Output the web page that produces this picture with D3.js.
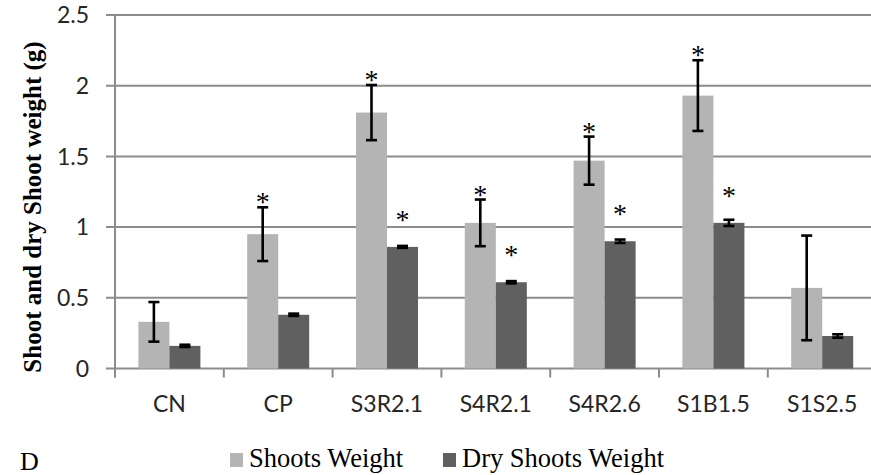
<!DOCTYPE html>
<html>
<head>
<meta charset="utf-8">
<script src="https://cdn.jsdelivr.net/npm/d3@7"></script>
<style>
  html, body { margin: 0; padding: 0; background: #fff; }
  svg { display: block; }
</style>
</head>
<body>
<svg id="chart" width="871" height="475"></svg>
<script>
// Treatments along the x axis
const categories = ["CN", "CP", "S3R2.1", "S4R2.1", "S4R2.6", "S1B1.5", "S1S2.5"];
// Series names
const seriesNames = ["Shoots Weight", "Dry Shoots Weight"];
// Fresh shoot weight (g) and its error
const shootsWeight = [0.33, 0.95, 1.81, 1.03, 1.47, 1.93, 0.57];
const shootsError  = [0.14, 0.19, 0.195, 0.165, 0.17, 0.25, 0.37];
// Dry shoot weight (g) and its error
const dryWeight = [0.16, 0.38, 0.86, 0.61, 0.90, 1.03, 0.23];
const dryError  = [0.008, 0.008, 0.007, 0.008, 0.012, 0.022, 0.012];
// Significance marks (asterisks) per series
const shootsSig = [false, true, true, true, true, true, false];
const drySig    = [false, false, true, true, true, true, false];
// Y axis ticks
const yTicks = [0, 0.5, 1, 1.5, 2, 2.5];

const svg = d3.select("#chart");
const plotLeft = 115, plotRight = 876.6, plotTop = 15, plotBottom = 368.5;

const x = d3.scaleBand().domain(categories).range([plotLeft, plotRight])
  .paddingInner(0.43).paddingOuter(0.215);
const xs = d3.scaleBand().domain(seriesNames).range([0, x.bandwidth()]);
const y = d3.scaleLinear().domain([0, 2.5]).range([plotBottom, plotTop]);

const gridColor = "#8c8c8c";
const colors = { "Shoots Weight": "#b4b4b4", "Dry Shoots Weight": "#606060" };

// Horizontal gridlines with short outward ticks
svg.append("g").selectAll("line").data(yTicks).join("line")
  .attr("x1", plotLeft - 9).attr("x2", plotRight)
  .attr("y1", d => y(d)).attr("y2", d => y(d))
  .attr("stroke", gridColor).attr("stroke-width", 2);

// Y axis line
svg.append("line").attr("x1", plotLeft).attr("x2", plotLeft)
  .attr("y1", plotTop).attr("y2", plotBottom + 9)
  .attr("stroke", gridColor).attr("stroke-width", 2);

// Category boundary ticks on the x axis
const step = x.step();
const bounds = categories.map(c => x(c) - step * x.paddingInner() / 2).concat([plotRight]);
svg.append("g").selectAll("line").data(bounds).join("line")
  .attr("x1", d => d).attr("x2", d => d)
  .attr("y1", plotBottom).attr("y2", plotBottom + 9)
  .attr("stroke", gridColor).attr("stroke-width", 2);

// Y tick labels
svg.append("g").selectAll("text").data(yTicks).join("text")
  .attr("x", 89).attr("y", d => y(d))
  .attr("dy", "0.36em")
  .attr("text-anchor", "end")
  .attr("font-family", "Lato, 'Open Sans', sans-serif")
  .attr("font-size", 23).attr("fill", "#262626")
  .text(d => d3.format("~g")(d));

// X category labels
svg.append("g").selectAll("text").data(categories).join("text")
  .attr("x", d => x(d) + x.bandwidth() / 2).attr("y", 412)
  .attr("text-anchor", "middle")
  .attr("font-family", "Lato, 'Open Sans', sans-serif")
  .attr("font-size", 23).attr("fill", "#262626")
  .text(d => d);

// Bars, error bars and asterisks for each series
const series = [
  { name: seriesNames[0], vals: shootsWeight, errs: shootsError, sig: shootsSig },
  { name: seriesNames[1], vals: dryWeight, errs: dryError, sig: drySig }
];

series.forEach(s => {
  const rows = categories.map((c, i) => ({ c, v: s.vals[i], e: s.errs[i], sig: s.sig[i] }));
  const g = svg.append("g");
  const cx = d => x(d.c) + xs(s.name) + xs.bandwidth() / 2;

  g.selectAll("rect").data(rows).join("rect")
    .attr("x", d => x(d.c) + xs(s.name))
    .attr("width", xs.bandwidth())
    .attr("y", d => y(d.v))
    .attr("height", d => y(0) - y(d.v))
    .attr("fill", colors[s.name]);

  const eb = g.append("g").attr("stroke", "#000").attr("stroke-width", 2.6);
  eb.selectAll("line.v").data(rows).join("line").attr("class", "v")
    .attr("x1", cx).attr("x2", cx)
    .attr("y1", d => y(d.v + d.e)).attr("y2", d => y(d.v - d.e));
  eb.selectAll("line.t").data(rows).join("line").attr("class", "t")
    .attr("x1", d => cx(d) - 5.5).attr("x2", d => cx(d) + 5.5)
    .attr("y1", d => y(d.v + d.e)).attr("y2", d => y(d.v + d.e));
  eb.selectAll("line.b").data(rows).join("line").attr("class", "b")
    .attr("x1", d => cx(d) - 5.5).attr("x2", d => cx(d) + 5.5)
    .attr("y1", d => y(d.v - d.e)).attr("y2", d => y(d.v - d.e));

  // Asterisks: above the error bar for fresh weight, above the bar for dry weight
  const isDry = s.name === seriesNames[1];
  g.selectAll("text").data(rows.filter(d => d.sig)).join("text")
    .attr("x", cx)
    .attr("y", d => (isDry ? y(d.v) - 32 : y(d.v + d.e) - 10) + 14)
    .attr("text-anchor", "middle")
    .attr("font-family", "'Liberation Serif', 'Times New Roman', serif")
    .attr("font-size", 28).attr("fill", "#000")
    .text("*");
});

// Y axis title
svg.append("text")
  .attr("transform", "translate(41, 207) rotate(-90)")
  .attr("text-anchor", "middle")
  .attr("font-family", "'Liberation Serif', 'Times New Roman', serif")
  .attr("font-weight", "bold")
  .attr("font-size", 25).attr("fill", "#000")
  .text("Shoot and dry Shoot weight (g)");

// Panel letter
svg.append("text").attr("x", 20).attr("y", 470)
  .attr("font-family", "'Liberation Serif', 'Times New Roman', serif")
  .attr("font-size", 26).attr("fill", "#000").text("D");

// Legend
const legendX = [230, 443];
const legend = svg.append("g");
seriesNames.forEach((n, i) => {
  legend.append("rect").attr("x", legendX[i]).attr("y", 453)
    .attr("width", 13).attr("height", 14).attr("fill", colors[n]);
  legend.append("text").attr("x", legendX[i] + 19).attr("y", 467)
    .attr("font-family", "'Liberation Serif', 'Times New Roman', serif")
    .attr("font-size", 26.5).attr("fill", "#000").text(n);
});
</script>
</body>
</html>
